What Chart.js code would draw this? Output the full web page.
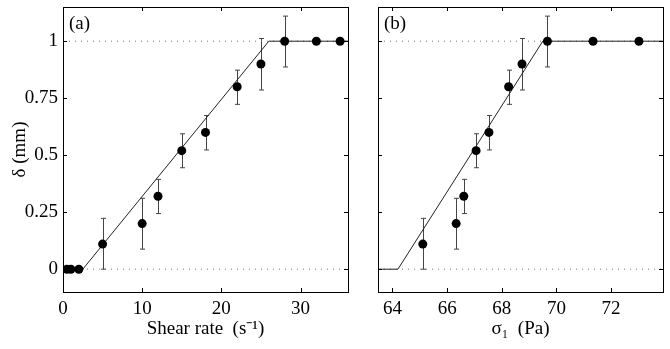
<!DOCTYPE html>
<html>
<head>
<meta charset="utf-8">
<script src="https://cdn.jsdelivr.net/npm/chart.js@4.4.1/dist/chart.umd.min.js"></script>
<style>
  body { margin: 0; background: #fff; }
  #wrap { position: relative; width: 670px; height: 349px; }
  canvas { position: absolute; top: 0; }
</style>
</head>
<body>
<div id="wrap">
  <canvas id="chartA" width="360" height="349" style="left:0"></canvas>
  <canvas id="chartB" width="310" height="349" style="left:360px"></canvas>
</div>
<script>
// panel (a): delta vs shear rate
const shearRate = [0.5, 1, 2, 5, 10, 12, 15, 18, 22, 25, 28, 32, 35];
const deltaA = [0, 0, 0, 0.11, 0.2, 0.32, 0.52, 0.6, 0.8, 0.9, 1, 1, 1];
const errLowA = [null, null, null, 0, 0.088, 0.244, 0.445, 0.523, 0.723, 0.786, 0.887, null, null];
const errHighA = [null, null, null, 0.223, 0.311, 0.394, 0.594, 0.674, 0.873, 1.012, 1.11, null, null];
const fitXA = [0, 2.5, 26, 36];
const fitYA = [0, 0, 1, 1];
const xTicksA = [0, 10, 20, 30];

// panel (b): delta vs sigma_1
const sigma1 = [65.11, 66.33, 66.61, 67.06, 67.53, 68.25, 68.74, 69.67, 71.34, 73.02];
const deltaB = [0.11, 0.2, 0.32, 0.52, 0.6, 0.8, 0.9, 1, 1, 1];
const errLowB = [0, 0.088, 0.244, 0.445, 0.523, 0.723, 0.786, 0.887, null, null];
const errHighB = [0.223, 0.311, 0.394, 0.594, 0.674, 0.873, 1.012, 1.11, null, null];
const fitXB = [63.47, 64.2, 69.5, 73.9];
const fitYB = [0, 0, 1, 1];
const xTicksB = [64, 66, 68, 70, 72];

const yTicks = [0, 0.25, 0.5, 0.75, 1];
const refLines = [0, 1];
const yRange = [-0.1, 1.15];

const serif = "'Liberation Serif', 'Times New Roman', serif";
Chart.defaults.font.family = serif;
Chart.defaults.color = '#000';

// box, inward ticks, error bars and panel label
const framePlugin = {
  id: 'frame',
  beforeDatasetsDraw(chart) {
    const { ctx, scales: { x, y } } = chart;
    const o = chart.options.plugins.frame;
    ctx.save();
    ctx.strokeStyle = '#444';
    ctx.lineWidth = 1;
    o.xs.forEach((xv, i) => {
      if (o.lo[i] == null) return;
      const px = Math.round(x.getPixelForValue(xv)) + 0.5;
      const p1 = y.getPixelForValue(o.lo[i]);
      const p2 = y.getPixelForValue(o.hi[i]);
      ctx.beginPath();
      ctx.moveTo(px, p1); ctx.lineTo(px, p2);
      ctx.moveTo(px - 2.5, p1); ctx.lineTo(px + 2.5, p1);
      ctx.moveTo(px - 2.5, p2); ctx.lineTo(px + 2.5, p2);
      ctx.stroke();
    });
    ctx.restore();
  },
  afterDraw(chart) {
    const { ctx, chartArea: a, scales: { x, y } } = chart;
    const o = chart.options.plugins.frame;
    ctx.save();
    ctx.strokeStyle = '#000';
    ctx.lineWidth = 1;
    ctx.strokeRect(a.left + 0.5, a.top + 0.5, a.right - a.left, a.bottom - a.top);
    ctx.beginPath();
    x.ticks.forEach(t => {
      const px = Math.round(x.getPixelForValue(t.value)) + 0.5;
      ctx.moveTo(px, a.bottom); ctx.lineTo(px, a.bottom - 4);
      ctx.moveTo(px, a.top); ctx.lineTo(px, a.top + 4);
    });
    y.ticks.forEach(t => {
      const py = Math.round(y.getPixelForValue(t.value)) + 0.5;
      ctx.moveTo(a.left, py); ctx.lineTo(a.left + 4, py);
      ctx.moveTo(a.right, py); ctx.lineTo(a.right - 4, py);
    });
    ctx.stroke();
    ctx.fillStyle = '#000';
    ctx.font = '19px ' + serif;
    ctx.textBaseline = 'top';
    ctx.fillText(o.label, a.left + 6, a.top + 8);
    ctx.restore();
  }
};

function makeChart(id, cfg) {
  const xMin = cfg.xRange[0], xMax = cfg.xRange[1];
  const datasets = [
    {
      data: cfg.xs.map((v, i) => ({ x: v, y: cfg.ys[i] })),
      showLine: false,
      pointRadius: 4.5,
      pointBackgroundColor: '#000',
      pointBorderColor: '#000',
      pointBorderWidth: 0
    },
    {
      data: cfg.fitX.map((v, i) => ({ x: v, y: cfg.fitY[i] })),
      showLine: true,
      borderColor: '#222',
      borderWidth: 1,
      pointRadius: 0
    }
  ];
  refLines.forEach(r => {
    datasets.push({
      data: [{ x: xMin, y: r }, { x: xMax, y: r }],
      showLine: true,
      borderColor: '#777',
      borderWidth: 1,
      borderDash: [1, 5],
      pointRadius: 0
    });
  });
  return new Chart(document.getElementById(id), {
    type: 'scatter',
    data: { datasets },
    options: {
      responsive: false,
      animation: false,
      layout: { padding: cfg.padding },
      plugins: {
        legend: { display: false },
        tooltip: { enabled: false },
        frame: { xs: cfg.xs, lo: cfg.lo, hi: cfg.hi, label: cfg.label }
      },
      scales: {
        x: {
          type: 'linear',
          min: xMin, max: xMax,
          grid: { display: false, drawTicks: false },
          border: { display: false },
          afterBuildTicks: s => { s.ticks = cfg.xTicks.map(v => ({ value: v })); },
          afterFit: s => { s.height = 57; },
          ticks: { font: { size: 19 }, padding: 6, maxRotation: 0, callback: v => String(v) },
          title: { display: true, text: cfg.xTitle, font: { size: 19 }, padding: { top: 0, bottom: 9 } }
        },
        y: {
          min: yRange[0], max: yRange[1],
          grid: { display: false, drawTicks: true, tickLength: 5, color: 'rgba(0,0,0,0)', drawOnChartArea: false },
          border: { display: false },
          afterBuildTicks: s => { s.ticks = yTicks.map(v => ({ value: v })); },
          afterFit: s => { s.width = cfg.yWidth; },
          ticks: { display: cfg.yLabels, font: { size: 19, lineHeight: 0.7 }, padding: 0, callback: v => String(v) },
          title: { display: cfg.yLabels, text: 'δ (mm)', font: { size: 19 }, padding: { top: 9, bottom: 0 } }
        }
      }
    },
    plugins: [framePlugin]
  });
}

makeChart('chartA', {
  xs: shearRate, ys: deltaA, lo: errLowA, hi: errHighA,
  fitX: fitXA, fitY: fitYA, xTicks: xTicksA, xRange: [0, 36],
  xTitle: 'Shear rate  (s⁻¹)', label: '(a)', yLabels: true, yWidth: 63,
  padding: { left: 0, top: 7, right: 12, bottom: 0 }
});

makeChart('chartB', {
  xs: sigma1, ys: deltaB, lo: errLowB, hi: errHighB,
  fitX: fitXB, fitY: fitYB, xTicks: xTicksB, xRange: [63.47, 73.9],
  xTitle: 'σ₁  (Pa)', label: '(b)', yLabels: false, yWidth: 18,
  padding: { left: 0, top: 7, right: 7, bottom: 0 }
});
</script>
</body>
</html>
